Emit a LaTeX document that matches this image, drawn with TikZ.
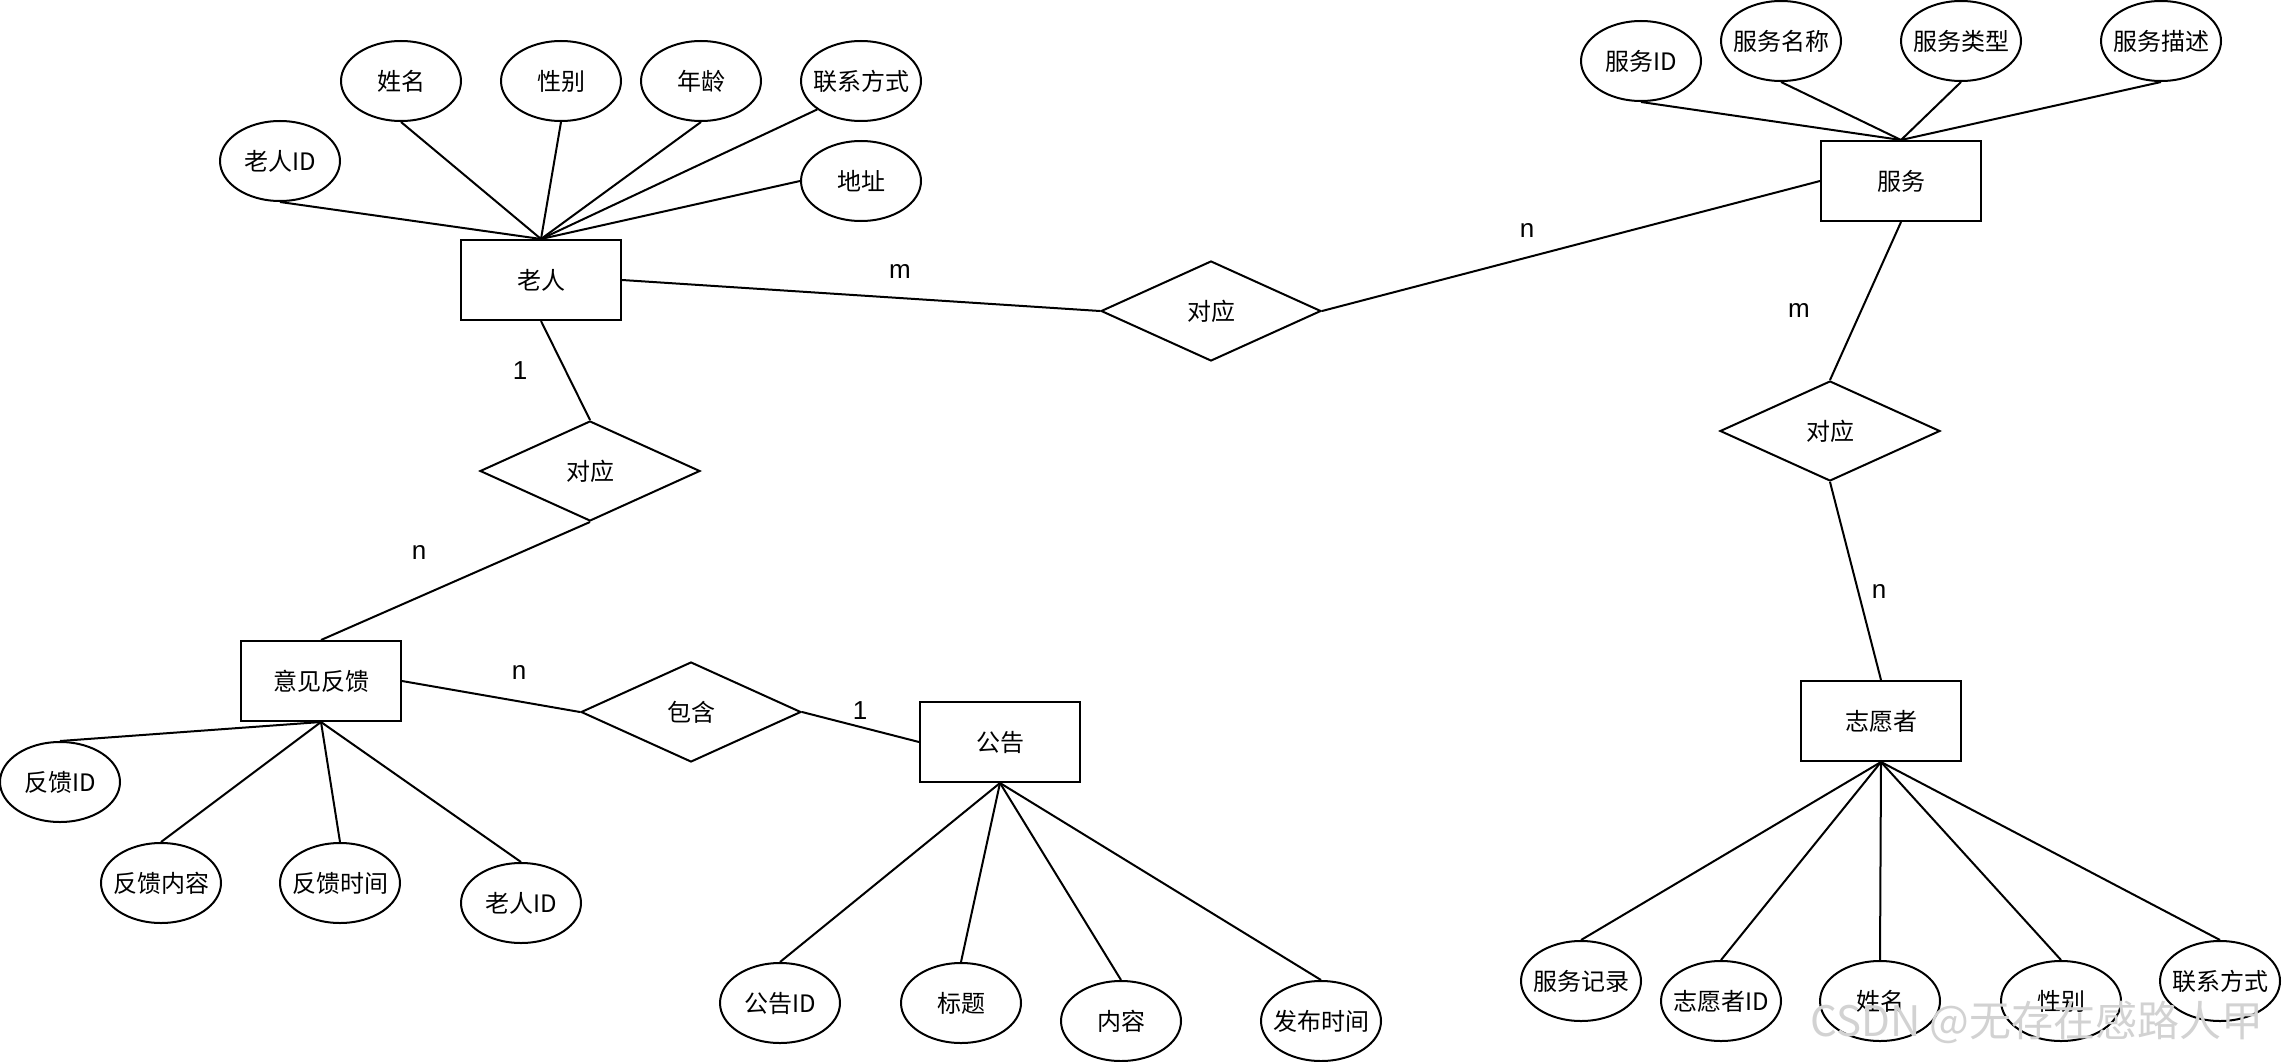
\documentclass[tikz,border=0pt]{standalone}
\usepackage{fontspec}
\setmainfont{Noto Sans CJK SC}
\newfontfamily\latinfont{Liberation Sans}
\usetikzlibrary{shapes.geometric}
\tikzset{
  ent/.style={draw, rectangle, minimum width=160pt, minimum height=80pt, inner sep=0pt, fill=white},
  attr/.style={draw, ellipse, minimum width=120pt, minimum height=80pt, inner sep=0pt, fill=white, label={center:#1}},
  rel/.style={draw, diamond, minimum width=220pt, minimum height=100pt, inner sep=0pt, fill=white},
  conn/.style={draw, line width=2pt},
  card/.style={font=\latinfont\fontsize{26}{30}\selectfont, inner sep=0pt},
  wm/.style={font=\fontsize{42}{46}\selectfont, text=gray!35, inner sep=0pt}
}
\begin{document}
\begin{tikzpicture}[x=1pt, y=-1pt, line width=2pt, font=\fontsize{24}{28}\selectfont]
\useasboundingbox[fill=white] (0,0) rectangle (2282,1062);

% entities
\node[ent] (laoren) at (541,280) {老人};
\node[ent] (fuwu) at (1901,181) {服务};
\node[ent] (zyz) at (1881,721) {志愿者};
\node[ent] (yjfk) at (321,681) {意见反馈};
\node[ent] (gg) at (1000,742) {公告};

% relationships
\node[rel] (d1) at (1211,311) {对应};
\node[rel] (d2) at (1830,431) {对应};
\node[rel] (d3) at (590,471) {对应};
\node[rel] (d4) at (691,712) {包含};

% attributes of 老人
\node[attr=老人ID] (a1) at (280,161) {};
\node[attr=姓名] (a2) at (401,81) {};
\node[attr=性别] (a3) at (561,81) {};
\node[attr=年龄] (a4) at (701,81) {};
\node[attr=联系方式] (a5) at (861,81) {};
\node[attr=地址] (a6) at (861,181) {};

% attributes of 服务
\node[attr=服务ID] (b1) at (1641,61) {};
\node[attr=服务名称] (b2) at (1781,41) {};
\node[attr=服务类型] (b3) at (1961,41) {};
\node[attr=服务描述] (b4) at (2161,41) {};

% attributes of 志愿者
\node[attr=服务记录] (c1) at (1581,981) {};
\node[attr=志愿者ID] (c2) at (1721,1001) {};
\node[attr=姓名] (c3) at (1880,1001) {};
\node[attr=性别] (c4) at (2061,1001) {};
\node[attr=联系方式] (c5) at (2220,981) {};

% attributes of 意见反馈
\node[attr=反馈ID] (e1) at (60,782) {};
\node[attr=反馈内容] (e2) at (161,883) {};
\node[attr=反馈时间] (e3) at (340,883) {};
\node[attr=老人ID] (e4) at (521,903) {};

% attributes of 公告
\node[attr=公告ID] (f1) at (780,1003) {};
\node[attr=标题] (f2) at (961,1003) {};
\node[attr=内容] (f3) at (1121,1021) {};
\node[attr=发布时间] (f4) at (1321,1021) {};

% attribute connectors
\draw[conn] (laoren.north) -- (a1.south);
\draw[conn] (laoren.north) -- (a2.south);
\draw[conn] (laoren.north) -- (a3.south);
\draw[conn] (laoren.north) -- (a4.south);
\draw[conn] (laoren.north) -- (a5.-147);
\draw[conn] (laoren.north) -- (a6.west);

\draw[conn] (fuwu.north) -- (b1.south);
\draw[conn] (fuwu.north) -- (b2.south);
\draw[conn] (fuwu.north) -- (b3.south);
\draw[conn] (fuwu.north) -- (b4.south);

\draw[conn] (zyz.south) -- (c1.north);
\draw[conn] (zyz.south) -- (c2.north);
\draw[conn] (zyz.south) -- (c3.north);
\draw[conn] (zyz.south) -- (c4.north);
\draw[conn] (zyz.south) -- (c5.north);

\draw[conn] (yjfk.south) -- (e1.north);
\draw[conn] (yjfk.south) -- (e2.north);
\draw[conn] (yjfk.south) -- (e3.north);
\draw[conn] (yjfk.south) -- (e4.north);

\draw[conn] (gg.south) -- (f1.north);
\draw[conn] (gg.south) -- (f2.north);
\draw[conn] (gg.south) -- (f3.north);
\draw[conn] (gg.south) -- (f4.north);

% relationship connectors
\draw[conn] (laoren.east) -- (d1.west);
\draw[conn] (fuwu.west) -- (d1.east);
\draw[conn] (fuwu.south) -- (d2.north);
\draw[conn] (d2.south) -- (zyz.north);
\draw[conn] (laoren.south) -- (d3.north);
\draw[conn] (d3.south) -- (yjfk.north);
\draw[conn] (yjfk.east) -- (d4.west);
\draw[conn] (d4.east) -- (gg.west);

% cardinalities
\node[card] (m1) at (900,272) {m};
\node[card] (n1) at (1527,231) {n};
\node[card] (m2) at (1799,311) {m};
\node[card] (n2) at (1879,591) {n};
\node[card] (o1) at (520,371) {1};
\node[card] (n3) at (419,552) {n};
\node[card] (n4) at (519,672) {n};
\node[card] (o2) at (860,711) {1};

% watermark (drawn over the diagram as in the reference)
\node[wm] (wmk) at (2037,1022) {CSDN @无存在感路人甲};
\end{tikzpicture}
\end{document}
